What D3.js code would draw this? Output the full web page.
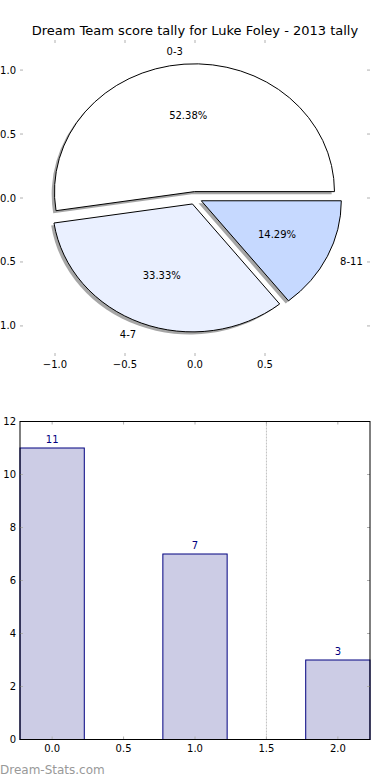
<!DOCTYPE html>
<html>
<head>
<meta charset="utf-8">
<script src="https://cdn.jsdelivr.net/npm/d3@7"></script>
<style>
  html, body { margin: 0; padding: 0; background: #fff; }
  svg { display: block; font-family: "DejaVu Sans", sans-serif; }
</style>
</head>
<body>
<svg id="chart" width="390" height="780"></svg>
<script>
// ---- data ----
const title = "Dream Team score tally for Luke Foley - 2013 tally";
const categories = ["0-3", "4-7", "8-11"];
const counts = [11, 7, 3];
const sliceColors = ["#ffffff", "#eaf0ff", "#c6d9ff"];
const pieXTicks = [-1.0, -0.5, 0.0, 0.5];
const pieYTicks = [1.0, 0.5, 0.0, -0.5, -1.0];
const barPositions = [0, 1, 2];
const barXTicks = [0.0, 0.5, 1.0, 1.5, 2.0];
const barYTicks = [0, 2, 4, 6, 8, 10, 12];
const watermark = "Dream-Stats.com";

const svg = d3.select("#chart");
const fmt1 = d3.format(".1f");
const minus = s => s.replace("-", "\u2212");

// ---- title ----
svg.append("text").attr("x", 195).attr("y", 30).attr("text-anchor", "middle")
  .attr("dominant-baseline", "central").attr("font-size", 13).attr("fill", "#000")
  .text(title);

// ---- pie axes ----
const px = d3.scaleLinear().domain([-1.25, 1.25]).range([20, 370]);
const py = d3.scaleLinear().domain([-1.235, 1.235]).range([356, 40]);
const tickCol = "#b0b0b0";
const pieG = svg.append("g");

pieXTicks.forEach(t => {
  pieG.append("line").attr("x1", px(t)).attr("x2", px(t)).attr("y1", 40).attr("y2", 43)
    .attr("stroke", tickCol).attr("stroke-width", 1);
  pieG.append("line").attr("x1", px(t)).attr("x2", px(t)).attr("y1", 353).attr("y2", 356)
    .attr("stroke", tickCol).attr("stroke-width", 1);
  pieG.append("text").attr("x", px(t)).attr("y", 364).attr("text-anchor", "middle")
    .attr("dominant-baseline", "central").attr("font-size", 10).text(minus(fmt1(t)));
});
pieYTicks.forEach(t => {
  pieG.append("line").attr("x1", 20).attr("x2", 23).attr("y1", py(t)).attr("y2", py(t))
    .attr("stroke", tickCol).attr("stroke-width", 1);
  pieG.append("line").attr("x1", 367).attr("x2", 370).attr("y1", py(t)).attr("y2", py(t))
    .attr("stroke", tickCol).attr("stroke-width", 1);
  pieG.append("text").attr("x", 16).attr("y", py(t)).attr("text-anchor", "end")
    .attr("dominant-baseline", "central").attr("font-size", 10).text(minus(fmt1(t)));
});

// ---- pie ----
const total = d3.sum(counts);
const explode = 0.05;
let acc = 0;
const slices = counts.map((c, i) => {
  const t1 = acc / total * 2 * Math.PI;
  acc += c;
  const t2 = acc / total * 2 * Math.PI;
  return { i, c, t1, t2, tm: (t1 + t2) / 2 };
});
const sx = px(1) - px(0), sy = py(0) - py(1);
const arc = d3.arc().innerRadius(0).outerRadius(1)
  .startAngle(d => Math.PI / 2 - d.t1).endAngle(d => Math.PI / 2 - d.t2);

function sliceTransform(d, ox, oy) {
  const cx = px(explode * Math.cos(d.tm) + ox);
  const cy = py(explode * Math.sin(d.tm) + oy);
  return `translate(${cx},${cy}) scale(${sx},${sy})`;
}
// shadows
pieG.selectAll("path.shadow").data(slices).join("path").attr("class", "shadow")
  .attr("d", arc).attr("transform", d => sliceTransform(d, -0.02, -0.02))
  .attr("fill", "#4d4d4d").attr("fill-opacity", 0.5);
// wedges
pieG.selectAll("path.wedge").data(slices).join("path").attr("class", "wedge")
  .attr("d", arc).attr("transform", d => sliceTransform(d, 0, 0))
  .attr("fill", d => sliceColors[d.i]).attr("stroke", "#000").attr("stroke-width", 1)
  .attr("vector-effect", "non-scaling-stroke").attr("stroke-linejoin", "miter");
// labels
slices.forEach(d => {
  const lx = (explode + 1.1) * Math.cos(d.tm), ly = (explode + 1.1) * Math.sin(d.tm);
  pieG.append("text").attr("x", px(lx)).attr("y", py(ly))
    .attr("text-anchor", lx > 0 ? "start" : "end").attr("dominant-baseline", "central")
    .attr("font-size", 10).text(categories[d.i]);
  const qx = (explode + 0.6) * Math.cos(d.tm), qy = (explode + 0.6) * Math.sin(d.tm);
  pieG.append("text").attr("x", px(qx)).attr("y", py(qy)).attr("text-anchor", "middle")
    .attr("dominant-baseline", "central").attr("font-size", 10)
    .text((d.c / total * 100).toFixed(2) + "%");
});

// ---- bar chart ----
const bx = d3.scaleLinear().domain([-0.225, 2.225]).range([20, 370]);
const by = d3.scaleLinear().domain([0, 12]).range([739.5, 421.5]);
const barW = 0.45;
const barG = svg.append("g");

// dotted line at 1.5
barG.append("line").attr("x1", bx(1.5)).attr("x2", bx(1.5)).attr("y1", by(12)).attr("y2", by(0))
  .attr("stroke", "#c0c0c0").attr("stroke-width", 1).attr("stroke-dasharray", "2,1");

barG.selectAll("rect.bar").data(barPositions).join("rect").attr("class", "bar")
  .attr("x", (d) => bx(d - barW / 2)).attr("width", (d) => bx(d + barW / 2) - bx(d - barW / 2))
  .attr("y", (d, i) => by(counts[i])).attr("height", (d, i) => by(0) - by(counts[i]))
  .attr("fill", "#ccccE5").attr("stroke", "#000080").attr("stroke-width", 1);

barG.selectAll("text.val").data(barPositions).join("text").attr("class", "val")
  .attr("x", d => bx(d)).attr("y", (d, i) => by(counts[i]) - 9)
  .attr("text-anchor", "middle").attr("dominant-baseline", "central")
  .attr("font-size", 10).attr("fill", "#000080").text((d, i) => counts[i]);

barXTicks.forEach(t => {
  barG.append("line").attr("x1", bx(t)).attr("x2", bx(t)).attr("y1", by(0)).attr("y2", by(0) - 3)
    .attr("stroke", tickCol);
  barG.append("line").attr("x1", bx(t)).attr("x2", bx(t)).attr("y1", by(12)).attr("y2", by(12) + 3)
    .attr("stroke", tickCol);
  barG.append("text").attr("x", bx(t)).attr("y", 748).attr("text-anchor", "middle")
    .attr("dominant-baseline", "central").attr("font-size", 10).text(fmt1(t));
});
barYTicks.forEach(t => {
  barG.append("line").attr("x1", 20).attr("x2", 23).attr("y1", by(t)).attr("y2", by(t))
    .attr("stroke", tickCol);
  barG.append("line").attr("x1", 367).attr("x2", 370).attr("y1", by(t)).attr("y2", by(t))
    .attr("stroke", tickCol);
  barG.append("text").attr("x", 16).attr("y", by(t)).attr("text-anchor", "end")
    .attr("dominant-baseline", "central").attr("font-size", 10).text(t);
});
// frame
barG.append("rect").attr("x", 20).attr("y", by(12)).attr("width", 350).attr("height", by(0) - by(12))
  .attr("fill", "none").attr("stroke", "#000").attr("stroke-width", 1);

// watermark
svg.append("text").attr("x", 0).attr("y", 770).attr("dominant-baseline", "central")
  .attr("font-size", 12).attr("fill", "#999999").text(watermark);
</script>
</body>
</html>
